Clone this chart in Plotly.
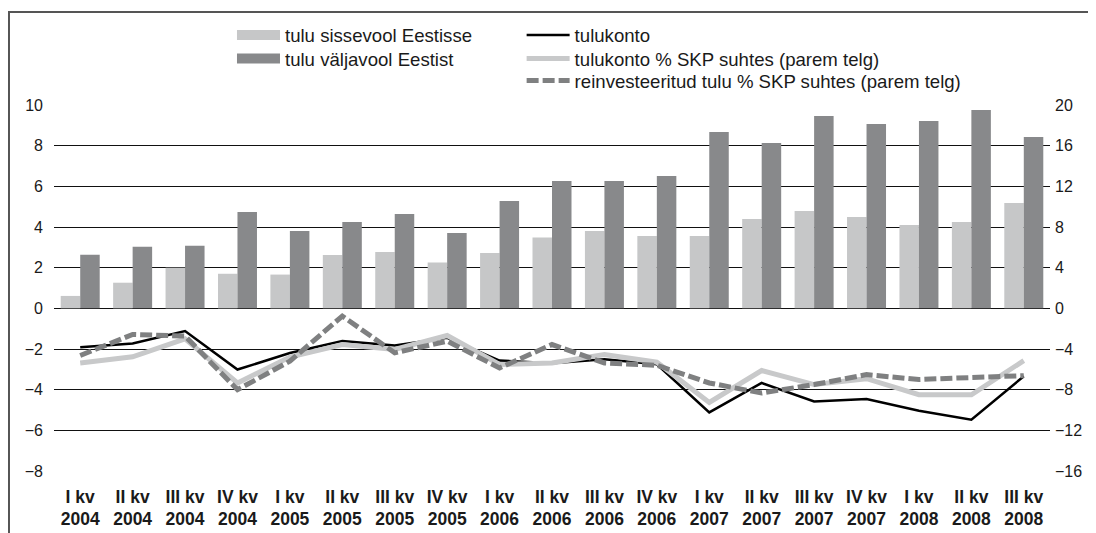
import plotly.graph_objects as go

# ---- data ----
quarters = ["I kv", "II kv", "III kv", "IV kv"] * 4 + ["I kv", "II kv", "III kv"]
years = ["2004"] * 4 + ["2005"] * 4 + ["2006"] * 4 + ["2007"] * 4 + ["2008"] * 3
categories = [f"{q} {y}" for q, y in zip(quarters, years)]
tick_labels = [f"{q}<br>{y}" for q, y in zip(quarters, years)]

inflow = [0.61, 1.26, 2.00, 1.70, 1.66, 2.62, 2.77, 2.25, 2.72, 3.48,
          3.80, 3.56, 3.56, 4.39, 4.79, 4.49, 4.10, 4.25, 5.18]
outflow = [2.64, 3.03, 3.08, 4.74, 3.80, 4.25, 4.64, 3.70, 5.28, 6.26,
           6.26, 6.51, 8.67, 8.13, 9.46, 9.07, 9.21, 9.75, 8.43]
income_account = [-1.91, -1.73, -1.12, -3.01, -2.20, -1.61, -1.83, -1.45, -2.57, -2.70,
                  -2.50, -2.75, -5.12, -3.67, -4.58, -4.46, -5.04, -5.48, -3.34]
income_pct_gdp = [-5.37, -4.77, -3.00, -7.34, -4.80, -3.56, -4.05, -2.67, -5.53, -5.37,
                  -4.54, -5.30, -9.25, -6.12, -7.50, -6.92, -8.50, -8.50, -5.14]
reinvest_pct_gdp = [-4.64, -2.57, -2.73, -8.00, -5.20, -0.76, -4.38, -3.23, -5.86, -3.56,
                    -5.37, -5.60, -7.34, -8.33, -7.50, -6.52, -7.00, -6.78, -6.62]

names = ["tulu sissevool Eestisse", "tulu väljavool Eestist", "tulukonto",
         "tulukonto % SKP suhtes (parem telg)",
         "reinvesteeritud tulu % SKP suhtes (parem telg)"]

C_LIGHT = "#c6c7c8"
C_DARK = "#88898b"
C_LINE_LIGHT = "#c8c9ca"
C_DASH = "#7f8081"
FONT = "Liberation Sans, Arial, sans-serif"
TXT = "#1a1a1a"

fig = go.Figure()

# bars
fig.add_trace(go.Bar(x=categories, y=inflow, name=names[0], marker_color=C_LIGHT,
                     marker_line_width=0, showlegend=False, yaxis="y"))
fig.add_trace(go.Bar(x=categories, y=outflow, name=names[1], marker_color=C_DARK,
                     marker_line_width=0, showlegend=False, yaxis="y"))

# legend proxies for bars (wide rectangles)
fig.add_trace(go.Scatter(x=[None], y=[None], name=names[0], mode="lines",
                         line=dict(color=C_LIGHT, width=10), legend="legend"))
fig.add_trace(go.Scatter(x=[None], y=[None], name=names[1], mode="lines",
                         line=dict(color=C_DARK, width=10), legend="legend2"))

# lines
fig.add_trace(go.Scatter(x=categories, y=income_account, name=names[2], mode="lines",
                         line=dict(color="black", width=2.5), yaxis="y",
                         legend="legend3"))
fig.add_trace(go.Scatter(x=categories, y=income_pct_gdp, name=names[3], mode="lines",
                         line=dict(color=C_LINE_LIGHT, width=5), yaxis="y2",
                         legend="legend4"))
fig.add_trace(go.Scatter(x=categories, y=reinvest_pct_gdp, name=names[4], mode="lines",
                         line=dict(color=C_DASH, width=5, dash="12px,4px"), yaxis="y2",
                         legend="legend5"))

leg_common = dict(xanchor="left", yanchor="middle", orientation="v",
                  font=dict(family=FONT, size=18.6, color=TXT),
                  bgcolor="rgba(0,0,0,0)", itemwidth=43)

COL1, COL2 = 0.1787, 0.4695
ROW1, ROW2, ROW3 = 1.19, 1.1257, 1.0656

fig.update_layout(
    width=1088, height=525,
    margin=dict(l=46, r=46, t=97, b=62, autoexpand=False),
    paper_bgcolor="white", plot_bgcolor="white",
    font=dict(family=FONT, size=16, color=TXT),
    barmode="group", bargap=0.256, bargroupgap=0,
    xaxis=dict(type="category", tickvals=categories, ticktext=tick_labels,
               tickfont=dict(family=FONT, size=17.5, color=TXT, weight="bold"),
               showgrid=False, showline=False, ticks="", ticklabelstandoff=13,
               automargin=False, range=[-0.5, len(categories) - 0.5]),
    yaxis=dict(range=[-8, 10], dtick=2, tick0=0, showgrid=True, gridcolor="#111111",
               gridwidth=1.3, zeroline=False, showline=False, ticks="",
               automargin=False, ticklabelstandoff=10, tickfont=dict(size=16)),
    yaxis2=dict(range=[-16, 20], dtick=4, tick0=0, overlaying="y", side="right",
                showgrid=False, zeroline=False, showline=False, ticks="",
                automargin=False, ticklabelstandoff=4, tickfont=dict(size=16)),
    legend=dict(x=COL1, y=ROW1, **leg_common),
    legend2=dict(x=COL1, y=ROW2, **leg_common),
    legend3=dict(x=COL2, y=ROW1, **leg_common),
    legend4=dict(x=COL2, y=ROW2, **leg_common),
    legend5=dict(x=COL2, y=ROW3, **leg_common),
    shapes=[dict(type="rect", xref="paper", yref="paper", x0=-0.0452, x1=1.3,
                 y0=-0.5, y1=1.254, line=dict(color="#555555", width=2),
                 fillcolor="rgba(0,0,0,0)", layer="below")],
)

fig.write_html("out.html")
